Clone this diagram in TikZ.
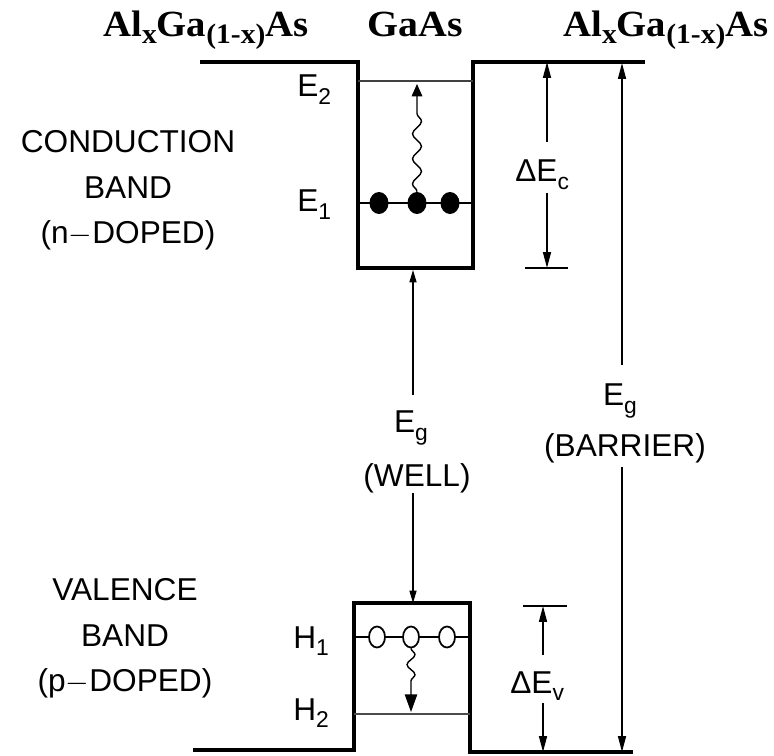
\documentclass[tikz,border=0pt]{standalone}
\usepackage{fontspec}
\setmainfont{Liberation Sans}
\newfontfamily\titlefont{Liberation Serif}
\usetikzlibrary{arrows.meta, shapes.geometric, decorations.pathmorphing, positioning}
\newcommand\lsub[1]{\raisebox{-0.45ex}{\fontsize{13}{13}\selectfont #1}}
\newcommand\tsub[1]{\raisebox{-0.4ex}{\fontsize{16}{16}\selectfont #1}}
\newcommand\alga{\scalebox{1.05}[1]{Al\tsub{x}Ga\tsub{(1-x)}As}}

\begin{document}
\begin{tikzpicture}[
  x=0.02cm, y=-0.02cm,
  wall/.style={line width=1.8pt, line join=miter},
  bandlevel/.style={line width=1.1pt},
  dimarrow/.style={line width=0.9pt, -{Triangle[length=9pt, width=4.5pt]}},
  dimtick/.style={line width=0.9pt},
  wave/.style={line width=0.8pt, decorate,
    decoration={snake, amplitude=0.9mm, segment length=5mm, post length=3.5mm},
    -{Triangle[length=7pt, width=6pt]}},
  lbl/.style={font=\fontsize{18}{26}\selectfont, inner sep=0pt},
  ttl/.style={font=\titlefont\bfseries\fontsize{21}{24}\selectfont, inner sep=0pt, anchor=base west},
  elec/.style={ellipse, fill=black, minimum width=0.38cm, minimum height=0.44cm, inner sep=0pt},
  hole/.style={ellipse, draw, fill=white, line width=1pt, minimum width=0.32cm, minimum height=0.42cm, inner sep=0pt}
]
  \useasboundingbox[fill=white] (0,0) rectangle (774,756);

  % titles
  \node[ttl] (tleft) at (103,37) {\alga};
  \node[ttl] (twell) at (367,37) {\scalebox{1.08}[1]{GaAs}};
  \node[ttl] (tright) at (563,37) {\alga};

  % band edges
  \draw[wall] (200,62) -- (358,62) -- (358,268) -- (473,268) -- (473,62) -- (645,62);
  \draw[wall] (193,750) -- (354,750) -- (354,603) -- (470,603) -- (470,752) -- (633,752);

  % confined levels
  \draw[bandlevel, black!75] (358,81) -- (473,81);
  \draw[bandlevel] (358,203) -- (473,203);
  \draw[bandlevel, line width=1.4pt] (354,637) -- (470,637);
  \draw[bandlevel, line width=1.6pt, black!70] (354,714) -- (470,714);

  \node[lbl, anchor=base west] (E2) at (297,97) {E\lsub{2}};
  \node[lbl, anchor=base west] (E1) at (297,212) {E\lsub{1}};
  \node[lbl, anchor=base west] (H1) at (293,648) {H\lsub{1}};
  \node[lbl, anchor=base west] (H2) at (293,720) {H\lsub{2}};

  % carriers
  \node[elec] (e1) at (379,203) {};
  \node[elec] (e2) at (417,203) {};
  \node[elec] (e3) at (450,203) {};
  \node[hole] (h1) at (377,637) {};
  \node[hole] (h2) at (411,637) {};
  \node[hole] (h3) at (447,637) {};

  \coordinate (e2up) at (417,84);
  \coordinate (h2down) at (411,712);
  \draw[wave] (e2.north) -- (e2up);
  \draw[wave, decoration={snake, amplitude=0.8mm, segment length=4mm, post length=5mm},
    -{Triangle[length=10pt, width=7pt]}] (h2.south) -- (h2down);

  % side labels
  \node[lbl, align=center, anchor=north] (cband) at (128,130) {CONDUCTION\\BAND\\(n$-$DOPED)};
  \node[lbl, align=center, anchor=north] (vband) at (125,578) {VALENCE\\BAND\\(p$-$DOPED)};

  % delta E_c
  \coordinate (dc0) at (547,62);
  \coordinate (dc1) at (547,142);
  \coordinate (dc2) at (547,193);
  \coordinate (dc3) at (547,268);
  \node[lbl, anchor=base west] (dEc) at (515,182) {ΔE\lsub{c}};
  \draw[dimarrow] (dc1) -- (dc0);
  \draw[dimarrow] (dc2) -- (dc3);
  \draw[dimtick] (525,268) -- (568,268);

  % delta E_v
  \coordinate (dv0) at (543,606);
  \coordinate (dv1) at (543,655);
  \coordinate (dv2) at (543,703);
  \coordinate (dv3) at (543,752);
  \node[lbl, anchor=base west] (dEv) at (510,693) {ΔE\lsub{v}};
  \draw[dimarrow] (dv1) -- (dv0);
  \draw[dimarrow] (dv2) -- (dv3);
  \draw[dimtick] (523,606) -- (567,606);

  % gap of the well
  \coordinate (gw0) at (413,270);
  \coordinate (gw1) at (413,395);
  \coordinate (gw2) at (413,493);
  \coordinate (gw3) at (413,603);
  \node[lbl, anchor=base] (EgW) at (411,433) {E\lsub{g}};
  \node[lbl, anchor=base] (well) at (417,487) {(WELL)};
  \draw[dimarrow, line width=0.7pt, -{Triangle[length=7pt, width=4pt]}] (gw1) -- (gw0);
  \draw[dimarrow, line width=0.7pt, -{Triangle[length=7pt, width=4pt]}] (gw2) -- (gw3);

  % gap of the barrier
  \coordinate (gb0) at (622,63);
  \coordinate (gb1) at (622,365);
  \coordinate (gb2) at (622,467);
  \coordinate (gb3) at (622,752);
  \node[lbl, anchor=base] (EgB) at (620,406) {E\lsub{g}};
  \node[lbl, anchor=base] (barrier) at (625,457) {(BARRIER)};
  \draw[dimarrow] (gb1) -- (gb0);
  \draw[dimarrow] (gb2) -- (gb3);
\end{tikzpicture}
\end{document}
